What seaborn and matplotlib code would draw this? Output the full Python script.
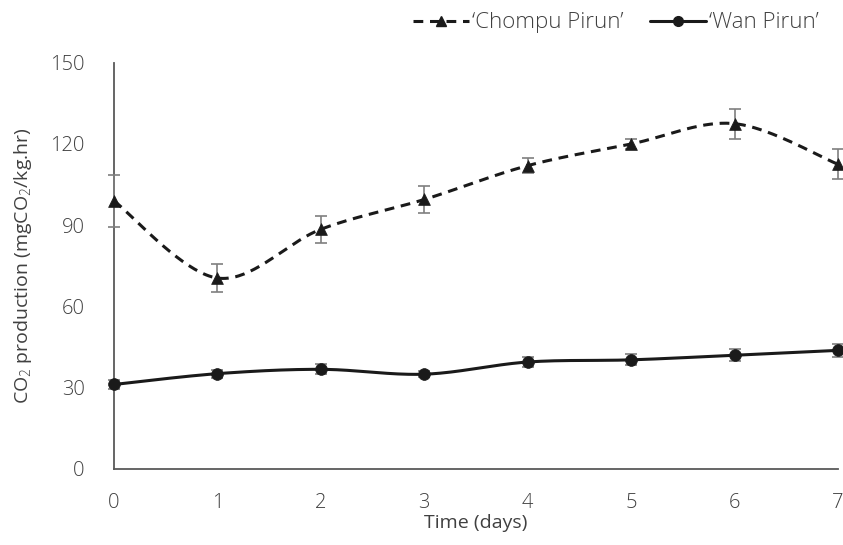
import numpy as np
import pandas as pd
import matplotlib
matplotlib.use("Agg")
import matplotlib.pyplot as plt
import seaborn as sns
from matplotlib.lines import Line2D

days = [0, 1, 2, 3, 4, 5, 6, 7]
chompu = [99, 70.5, 88.5, 99.5, 112, 120, 127.5, 112.5]
chompu_err = [9.5, 5, 5, 5, 2.8, 2, 5.5, 5.5]
wan = [31.2, 35.2, 36.8, 35, 39.5, 40.3, 42, 43.8]
wan_err = [1.5, 1.5, 1.8, 1.2, 2, 2, 2.2, 2.5]
series_names = ["\u2018Chompu Pirun\u2019", "\u2018Wan Pirun\u2019"]
yticks = [0, 30, 60, 90, 120, 150]
xticks = days

sns.set_style("white")
plt.rcParams["font.family"] = ["Open Sans", "DejaVu Sans"]
plt.rcParams["font.weight"] = "light"
plt.rcParams["mathtext.fontset"] = "custom"
plt.rcParams["mathtext.rm"] = "Open Sans:light"
plt.rcParams["mathtext.it"] = "Open Sans:light"

TXT = "#404040"
AX = "#595959"


def smooth(x, y, n=40):
    """Excel-style smoothed line (cubic Bezier through the points)."""
    x = np.asarray(x, float)
    y = np.asarray(y, float)
    P = np.column_stack([x, y])
    out = []
    for i in range(len(P) - 1):
        p0 = P[i - 1] if i > 0 else P[i]
        p1 = P[i]
        p2 = P[i + 1]
        p3 = P[i + 2] if i + 2 < len(P) else P[i + 1]
        c1 = p1 + (p2 - p0) / 6.0
        c2 = p2 - (p3 - p1) / 6.0
        t = np.linspace(0, 1, n)[:, None]
        seg = ((1 - t) ** 3) * p1 + 3 * ((1 - t) ** 2) * t * c1 + 3 * (1 - t) * t ** 2 * c2 + t ** 3 * p2
        out.append(seg if i == 0 else seg[1:])
    s = np.vstack(out)
    return s[:, 0], s[:, 1]


fig = plt.figure(figsize=(8.43, 5.45), dpi=100)
ax = fig.add_axes([114 / 843, 1 - 469 / 545, (838 - 114) / 843, (469 - 62.7) / 545])

for vals, errs, ls, mk, ms in [(chompu, chompu_err, (0, (3.2, 2.2)), "^", 8.5),
                               (wan, wan_err, "-", "o", 8.5)]:
    sx, sy = smooth(days, vals)
    df = pd.DataFrame({"x": sx, "y": sy})
    sns.lineplot(data=df, x="x", y="y", ax=ax, sort=False, estimator=None,
                 color="#1a1a1a", linewidth=2.2, linestyle=ls, clip_on=False)
    ax.errorbar(days, vals, yerr=errs, fmt="none", ecolor="#7f7f7f",
                elinewidth=1.2, capsize=4, capthick=1.2, clip_on=False, zorder=3)
    sns.scatterplot(x=days, y=vals, ax=ax, marker=mk, s=ms ** 2, color="#1a1a1a",
                    edgecolor="#1a1a1a", linewidth=0.5, clip_on=False, zorder=4)

ax.set_xlim(0, 7)
ax.set_ylim(0, 150)
ax.set_xticks(xticks)
ax.set_yticks(yticks)
ax.tick_params(axis="both", direction="out", length=6, width=1.2, color=AX,
               labelsize=14.5, labelcolor=TXT)
ax.tick_params(axis="y", pad=15)
ax.tick_params(axis="x", pad=11)
for s in ["top", "right"]:
    ax.spines[s].set_visible(False)
for s in ["left", "bottom"]:
    ax.spines[s].set_color(AX)
    ax.spines[s].set_linewidth(1.3)

ax.set_xlabel("Time (days)", fontsize=14, color=TXT, labelpad=1)
ax.set_ylabel("CO$_2$ production (mgCO$_2$/kg.hr)", fontsize=14, color=TXT, labelpad=12)

handles = [
    Line2D([0], [0], color="#1a1a1a", lw=2.2, linestyle=(0, (3.2, 2.2)), marker="^", markersize=7),
    Line2D([0], [0], color="#1a1a1a", lw=2.2, linestyle="-", marker="o", markersize=7),
]
leg = fig.legend(handles, series_names, loc="center right", bbox_to_anchor=(0.995, 0.958),
                 ncol=2, frameon=False, fontsize=16, handlelength=2.5, handletextpad=0.15,
                 columnspacing=1.2)
for t in leg.get_texts():
    t.set_color(TXT)

fig.savefig("out.png", dpi=100)
